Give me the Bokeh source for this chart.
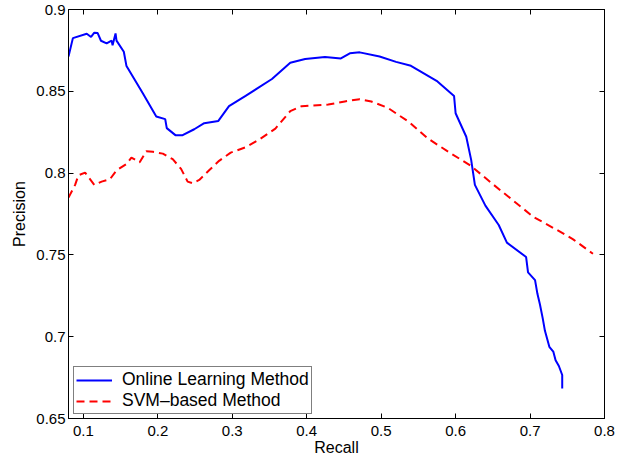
from bokeh.plotting import figure
from bokeh.models import LinearAxis, FixedTicker, Range1d, Legend, LegendItem
from bokeh.embed import file_html
from bokeh.resources import INLINE

recall_online = [0.080, 0.0859, 0.1045, 0.1103, 0.1147, 0.1192, 0.1236, 0.1312, 0.1379, 0.1392,
                 0.1432, 0.1445, 0.1543, 0.1579, 0.1800, 0.1979, 0.2099, 0.2120, 0.2236, 0.2333,
                 0.2489, 0.2623, 0.2813, 0.2956, 0.3179, 0.3533, 0.3779, 0.3979, 0.4245, 0.4459,
                 0.4579, 0.4712, 0.4979, 0.5200, 0.5400, 0.5756, 0.5979, 0.6000, 0.6143, 0.6209,
                 0.6259, 0.6400, 0.6579, 0.6689, 0.6947, 0.6973, 0.7067, 0.7099, 0.7133, 0.7169,
                 0.7200, 0.7259, 0.7312, 0.7343, 0.7387, 0.7432, 0.7432]
precision_online = [0.8713, 0.8825, 0.8852, 0.8832, 0.8858, 0.8856, 0.8809, 0.8793, 0.8810, 0.8781,
                    0.8854, 0.8810, 0.8742, 0.8654, 0.8487, 0.8346, 0.8330, 0.8275, 0.8232, 0.8232,
                    0.8268, 0.8305, 0.8319, 0.8409, 0.8472, 0.8575, 0.8674, 0.8697, 0.8709, 0.8701,
                    0.8732, 0.8738, 0.8713, 0.8680, 0.8656, 0.8560, 0.8472, 0.8366, 0.8222, 0.8081,
                    0.7928, 0.7801, 0.7683, 0.7575, 0.7487, 0.7393, 0.7346, 0.7262, 0.7197, 0.7115,
                    0.7036, 0.6938, 0.6909, 0.6856, 0.6821, 0.6766, 0.6684]

recall_svm = [0.080, 0.0889, 0.0933, 0.1023, 0.1147, 0.1245, 0.1356, 0.1445, 0.1579, 0.1645,
              0.1756, 0.1845, 0.1933, 0.2067, 0.2200, 0.2312, 0.2400, 0.2467, 0.2556, 0.2689,
              0.2823, 0.2979, 0.3179, 0.3356, 0.3579, 0.3779, 0.3933, 0.4289, 0.4512, 0.4712,
              0.4867, 0.5089, 0.5379, 0.5623, 0.5889, 0.6200, 0.6512, 0.6779, 0.7045, 0.7356,
              0.7579, 0.7845]
precision_svm = [0.7850, 0.7928, 0.7987, 0.8003, 0.7928, 0.7948, 0.7962, 0.8017, 0.8056, 0.8095,
                 0.8066, 0.8134, 0.8130, 0.8119, 0.8085, 0.8026, 0.7948, 0.7938, 0.7958, 0.8017,
                 0.8075, 0.8125, 0.8158, 0.8203, 0.8272, 0.8379, 0.8409, 0.8419, 0.8438, 0.8452,
                 0.8438, 0.8399, 0.8311, 0.8213, 0.8134, 0.8046, 0.7928, 0.7830, 0.7732, 0.7654,
                 0.7595, 0.7507]

x_ticks = [0.1, 0.2, 0.3, 0.4, 0.5, 0.6, 0.7, 0.8]
x_tick_labels = ["0.1", "0.2", "0.3", "0.4", "0.5", "0.6", "0.7", "0.8"]
y_ticks = [0.65, 0.7, 0.75, 0.8, 0.85, 0.9]
y_tick_labels = ["0.65", "0.7", "0.75", "0.8", "0.85", "0.9"]

series_names = ["Online Learning Method", "SVM\u2013based Method"]

FONT = "Liberation Sans"

p = figure(width=615, height=458, output_backend="svg", toolbar_location=None,
           x_range=Range1d(0.08, 0.8), y_range=Range1d(0.65, 0.9),
           min_border_left=68, min_border_right=11, min_border_top=9, min_border_bottom=30,
           x_axis_label="Recall", y_axis_label="Precision")
p.xgrid.visible = False
p.ygrid.visible = False
p.outline_line_color = "black"
p.outline_line_width = 1
p.background_fill_color = "white"
p.border_fill_color = "white"

def style_axis(ax, ticks, labels, show_labels):
    ax.ticker = FixedTicker(ticks=ticks)
    ax.minor_tick_line_color = None
    ax.major_tick_in = 5
    ax.major_tick_out = 0
    ax.axis_line_color = "black"
    ax.axis_line_width = 1
    ax.major_tick_line_color = "black"
    ax.major_tick_line_width = 1
    ax.major_label_text_font = FONT
    ax.axis_label_text_font = FONT
    ax.axis_label_text_font_style = "normal"
    ax.axis_label_text_color = "black"
    if show_labels:
        ax.major_label_overrides = {t: l for t, l in zip(ticks, labels)}
        ax.major_label_text_color = "black"
        ax.major_label_text_font_size = "15px"
        ax.axis_label_text_font_size = "16px"
    else:
        ax.major_label_text_color = None
        ax.major_label_text_font_size = "1px"
        ax.major_label_standoff = 0

style_axis(p.xaxis[0], x_ticks, x_tick_labels, True)
style_axis(p.yaxis[0], y_ticks, y_tick_labels, True)
p.xaxis[0].major_label_standoff = 7
p.xaxis[0].axis_label_standoff = 0
p.yaxis[0].major_label_standoff = 3
p.yaxis[0].axis_label_standoff = 5

top_ax = LinearAxis()
right_ax = LinearAxis()
style_axis(top_ax, x_ticks, x_tick_labels, False)
style_axis(right_ax, y_ticks, y_tick_labels, False)
p.add_layout(top_ax, "above")
p.add_layout(right_ax, "right")

r1 = p.line(recall_online, precision_online, line_color="#0000FF", line_width=2)
r2 = p.line(recall_svm, precision_svm, line_color="#FF0000", line_width=2, line_dash="8 5")

legend = Legend(items=[LegendItem(label=series_names[0], renderers=[r1]),
                       LegendItem(label=series_names[1], renderers=[r2])],
                location=(5, 4))
legend.label_text_font = FONT
legend.label_text_font_size = "17.5px"
legend.label_text_color = "black"
legend.border_line_color = "black"
legend.border_line_width = 1
legend.background_fill_color = "white"
legend.background_fill_alpha = 1
legend.padding = 2
legend.spacing = 0
legend.margin = 0
legend.glyph_width = 36
legend.glyph_height = 18
legend.label_height = 18
legend.label_standoff = 10
p.add_layout(legend, "center")

open("out.html", "w").write(file_html(p, INLINE))
